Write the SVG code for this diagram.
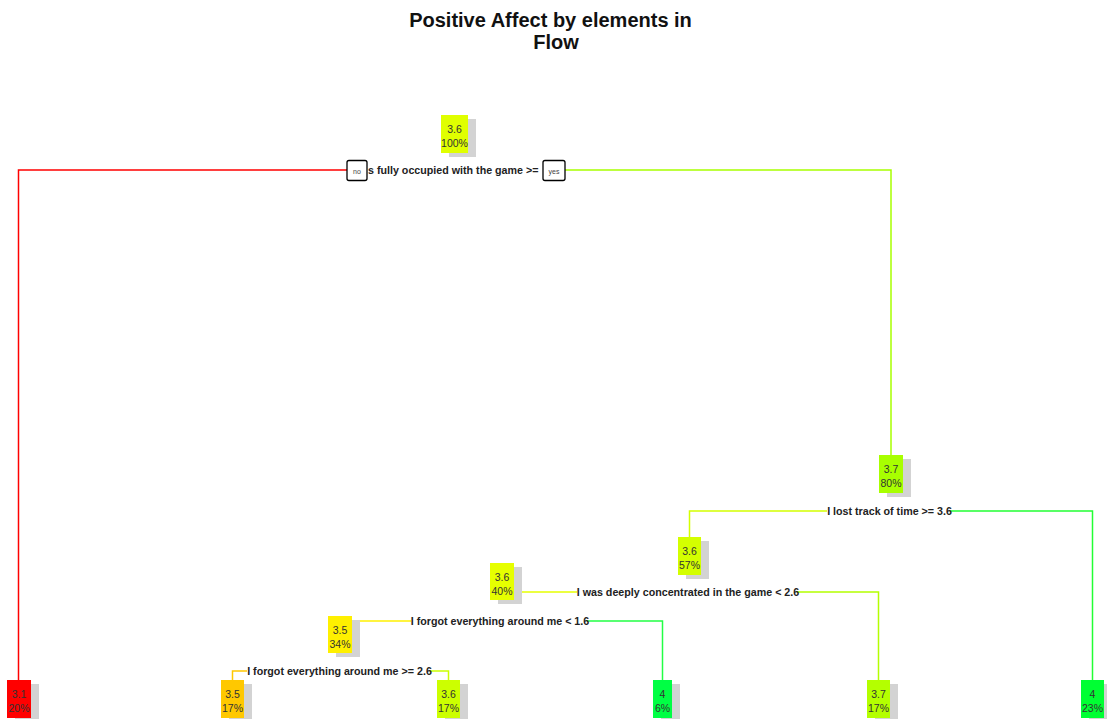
<svg xmlns="http://www.w3.org/2000/svg" width="1107" height="719" viewBox="0 0 1107 719">
<style>
.title{font-family:"Liberation Sans",Arial,sans-serif;font-weight:bold;font-size:20px;fill:#111;text-anchor:middle}
.lbl{font-family:"Liberation Sans",Arial,sans-serif;font-weight:bold;font-size:10.7px;fill:#222}
.nt{font-family:"Liberation Sans",Arial,sans-serif;font-size:10.5px;fill:#333;text-anchor:middle}
.sh{fill:#d3d3d3}
.e{fill:none;stroke-width:1.5}
.yn{fill:#fff;stroke:#000;stroke-width:1.3}
.ynt{font-family:"Liberation Sans",Arial,sans-serif;font-size:7px;fill:#444;text-anchor:middle}
</style>
<rect width="1107" height="719" fill="#fff"/>
<text class="title" x="550.5" y="27">Positive Affect by elements in</text>
<text class="title" x="556" y="49">Flow</text>

<g id="connectors">
<path class="e" stroke="#ff0000" d="M347 170 H18.5 V680"/>
<path class="e" stroke="#a8ff00" d="M565 170 H891 V455"/>
<path class="e" stroke="#d4ff00" d="M827 511 H689.5 V537"/>
<path class="e" stroke="#22ff33" d="M950 511 H1092.5 V680"/>
<path class="e" stroke="#e6ff00" d="M577 592 H502"/>
<path class="e" stroke="#b4ff00" d="M797 592 H878.5 V680"/>
<path class="e" stroke="#fff000" d="M411 621 H340"/>
<path class="e" stroke="#22ff44" d="M587 621 H662.5 V680"/>
<path class="e" stroke="#ffc800" d="M247 671 H232.5 V680"/>
<path class="e" stroke="#ccff00" d="M430 671 H448.5 V680"/>
</g>

<g id="labels">
<text class="lbl" x="368" y="174">s fully occupied with the game &gt;=</text>
<text class="lbl" x="889.5" y="515" text-anchor="middle">I lost track of time &gt;= 3.6</text>
<text class="lbl" x="688" y="596" text-anchor="middle">I was deeply concentrated in the game &lt; 2.6</text>
<text class="lbl" x="500" y="625" text-anchor="middle">I forgot everything around me &lt; 1.6</text>
<text class="lbl" x="339.5" y="675" text-anchor="middle">I forgot everything around me &gt;= 2.6</text>
</g>

<g id="no">
<rect class="yn" x="347" y="160.5" width="20" height="20" rx="2"/>
<text class="ynt" x="357" y="174">no</text>
</g>
<g id="yes">
<rect class="yn" x="543" y="160.5" width="22" height="20" rx="2"/>
<text class="ynt" x="554" y="174">yes</text>
</g>

<g id="n1">
<rect class="sh" x="449" y="119" width="27" height="38"/>
<rect x="441" y="115" width="27" height="38" fill="#e0ff00"/>
<text class="nt" x="454.5" y="133">3.6</text>
<text class="nt" x="454.5" y="147">100%</text>
</g>
<g id="n3">
<rect class="sh" x="887" y="459" width="24" height="38"/>
<rect x="879" y="455" width="24" height="38" fill="#a8ff00"/>
<text class="nt" x="891" y="473">3.7</text>
<text class="nt" x="891" y="487">80%</text>
</g>
<g id="n6">
<rect class="sh" x="686" y="541" width="23" height="38"/>
<rect x="678" y="537" width="23" height="38" fill="#d4ff00"/>
<text class="nt" x="689.5" y="555">3.6</text>
<text class="nt" x="689.5" y="569">57%</text>
</g>
<g id="n12">
<rect class="sh" x="498" y="567" width="24" height="37"/>
<rect x="490" y="563" width="24" height="37" fill="#e6ff00"/>
<text class="nt" x="502" y="581">3.6</text>
<text class="nt" x="502" y="595">40%</text>
</g>
<g id="n24">
<rect class="sh" x="336" y="620" width="24" height="37"/>
<rect x="328" y="616" width="24" height="37" fill="#fff000"/>
<text class="nt" x="340" y="634">3.5</text>
<text class="nt" x="340" y="648">34%</text>
</g>

<g id="leaf2">
<rect class="sh" x="15" y="684" width="24" height="38"/>
<rect x="7" y="680" width="24" height="38" fill="#ff0000"/>
<text class="nt" x="19" y="698">3.1</text>
<text class="nt" x="19" y="712">20%</text>
</g>
<g id="leaf48">
<rect class="sh" x="229" y="684" width="23" height="38"/>
<rect x="221" y="680" width="23" height="38" fill="#ffc800"/>
<text class="nt" x="232.5" y="698">3.5</text>
<text class="nt" x="232.5" y="712">17%</text>
</g>
<g id="leaf49">
<rect class="sh" x="445" y="684" width="23" height="38"/>
<rect x="437" y="680" width="23" height="38" fill="#ccff00"/>
<text class="nt" x="448.5" y="698">3.6</text>
<text class="nt" x="448.5" y="712">17%</text>
</g>
<g id="leaf25">
<rect class="sh" x="661" y="684" width="19" height="38"/>
<rect x="653" y="680" width="19" height="38" fill="#00ff44"/>
<text class="nt" x="662.5" y="698">4</text>
<text class="nt" x="662.5" y="712">6%</text>
</g>
<g id="leaf13">
<rect class="sh" x="875" y="684" width="23" height="38"/>
<rect x="867" y="680" width="23" height="38" fill="#b4ff00"/>
<text class="nt" x="878.5" y="698">3.7</text>
<text class="nt" x="878.5" y="712">17%</text>
</g>
<g id="leaf7">
<rect class="sh" x="1089" y="684" width="23" height="38"/>
<rect x="1081" y="680" width="23" height="38" fill="#00ff33"/>
<text class="nt" x="1092.5" y="698">4</text>
<text class="nt" x="1092.5" y="712">23%</text>
</g>
</svg>
